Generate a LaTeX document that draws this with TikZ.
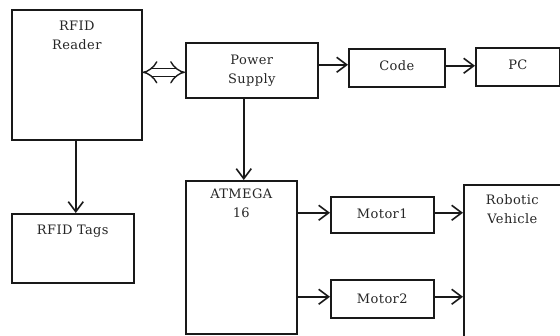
\documentclass[tikz,border=0pt]{standalone}
\usepackage{fontspec}
\setmainfont{DejaVu Serif}[LetterSpace=3.0]
\usetikzlibrary{arrows.meta,positioning,calc}
\tikzset{
  blk/.style={draw=black!90, line width=1.6pt, rectangle, inner sep=0pt, anchor=north west},
  lbl/.style={font=\fontsize{13}{19}\selectfont, align=center, text=black!85, inner sep=0pt},
  arr/.style={draw=black!90, line width=1.6pt, -{Straight Barb[length=10pt,width=15pt,line width=1.6pt]}},
  dblarr/.style={draw=black!90, line width=1.4pt, double=white, double distance=6.5pt,
    {Implies[length=9pt]}-{Implies[length=9pt]}}
}
\begin{document}
\begin{tikzpicture}[x=1pt,y=-1pt]
\useasboundingbox (0,0) rectangle (560,336);

% blocks (top-left corner, size)
\node[blk, minimum width=130pt, minimum height=130pt] (reader) at (11,9) {};
\node[blk, minimum width=132pt, minimum height=55pt]  (power)  at (185,42) {};
\node[blk, minimum width=96pt,  minimum height=38pt]  (code)   at (348,48) {};
\node[blk, minimum width=84pt,  minimum height=38pt]  (pc)     at (475,47) {};
\node[blk, minimum width=122pt, minimum height=69pt]  (tags)   at (11,213) {};
\node[blk, minimum width=111pt, minimum height=153pt] (atmega) at (185,180) {};
\node[blk, minimum width=103pt, minimum height=36pt]  (motora) at (330,196) {};
\node[blk, minimum width=103pt, minimum height=38pt]  (motorb) at (330,279) {};
\node[blk, minimum width=97pt,  minimum height=152pt] (vehicle) at (463,184) {};

% labels
\node[lbl, anchor=north] (readerT)  at ([yshift=-12pt]reader.north) {RFID\\Reader};
\node[lbl] (powerT) at (power.center) {Power\\Supply};
\node[lbl] (codeT)  at ([yshift=2pt]code.center) {Code};
\node[lbl] (pcT)    at ([yshift=2pt]pc.center) {PC};
\node[lbl, anchor=north] (tagsT)    at ([yshift=-12pt]tags.north) {RFID Tags};
\node[lbl, anchor=north] (atmegaT)  at ([yshift=-9pt]atmega.north) {ATMEGA\\16};
\node[lbl] (motoraT) at ([yshift=1pt]motora.center) {Motor1};
\node[lbl] (motorbT) at (motorb.center) {Motor2};
\node[lbl, anchor=north] (vehicleT) at ([yshift=-10pt]vehicle.north) {Robotic\\Vehicle};

% connectors
\draw[dblarr] ([yshift=-2pt]power.west -| reader.east) -- ([yshift=-2pt]power.west);
\draw[arr] ([xshift=-1pt]reader.south) -- ([xshift=-1pt]reader.south |- tags.north);
\draw[arr] ([xshift=-8pt]power.south) -- ([xshift=-8pt]power.south |- atmega.north);
\draw[arr] ([yshift=3pt]code.west -| power.east) -- ([yshift=3pt]code.west);
\draw[arr] ([yshift=2pt]code.east) -- ([yshift=2pt]code.east -| pc.west);
\draw[arr] ([yshift=2pt]motora.west -| atmega.east) -- ([yshift=2pt]motora.west);
\draw[arr] ([yshift=2pt]motora.east) -- ([yshift=2pt]motora.east -| vehicle.west);
\draw[arr] ([yshift=2pt]motorb.west -| atmega.east) -- ([yshift=2pt]motorb.west);
\draw[arr] ([yshift=2pt]motorb.east) -- ([yshift=2pt]motorb.east -| vehicle.west);
\end{tikzpicture}
\end{document}
